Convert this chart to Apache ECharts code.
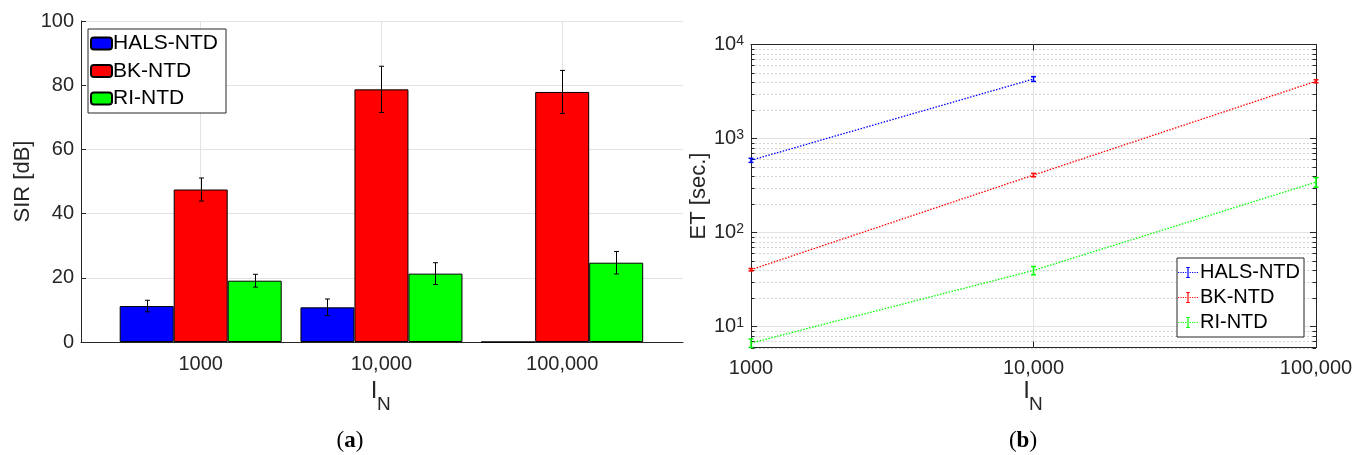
<!DOCTYPE html>
<html>
<head>
<meta charset="utf-8">
<script src="https://cdn.jsdelivr.net/npm/echarts@6/dist/echarts.min.js"></script>
<style>
html,body{margin:0;padding:0;background:#fff;}
#c{width:1362px;height:455px;}
</style>
</head>
<body>
<div id="c"></div>
<script>
// ---------- data ----------
const categories = ['1000', '10,000', '100,000'];
const methodNames = ['HALS-NTD', 'BK-NTD', 'RI-NTD'];
const methodColors = ['#0000ff', '#ff0000', '#00ff00'];

// (a) SIR [dB]
const sirHALS = [11.2, 10.8, 0];
const sirHALSErr = [1.8, 2.6, null];
const sirBK = [47.5, 78.7, 77.9];
const sirBKErr = [3.6, 7.2, 6.7];
const sirRI = [19.1, 21.3, 24.7];
const sirRIErr = [2.0, 3.4, 3.5];

// (b) ET [sec.]
const sizes = [1000, 10000, 100000];
const sizeLabels = ['1000', '10,000', '100,000'];
const etHALS = [587, 4300, null];
const etHALSErr = [29, 250, null];
const etBK = [40.3, 409, 4064];
const etBKErr = [1.2, 17, 150];
const etRI = [6.7, 39.6, 344];
const etRIErr = [0.7, 4, 40];
const yMinorTicks = [6, 7, 8, 9, 20, 30, 40, 50, 60, 70, 80, 90,
  200, 300, 400, 500, 600, 700, 800, 900, 2000, 3000, 4000, 5000, 6000, 7000, 8000, 9000];

// ---------- style ----------
const FONT = 'Liberation Sans, Arial, Helvetica, sans-serif';
const SERIF = 'Liberation Serif, DejaVu Serif, serif';
const AX = '#262626';
const GRID = '#e3e3e3';
const MINOR = '#d4d4d4';
const BAR_W = 54;

const chart = echarts.init(document.getElementById('c'), null, {renderer: 'canvas'});

function sirErrSeries(name, vals, errs, off) {
  return {
    type: 'custom', name: name + ' err', xAxisIndex: 1, yAxisIndex: 1, z: 5, clip: false,
    data: vals.map((v, i) => errs[i] == null ? null : [i, v, errs[i]]).filter(Boolean),
    renderItem: function (params, api) {
      const v = api.value(1), e = api.value(2), x = api.value(0);
      const t = api.coord([x, v + e]);
      const b = api.coord([x, v - e]);
      const cx = Math.round(t[0] + off) + 0.5;
      const st = {stroke: '#000', lineWidth: 1};
      return {type: 'group', children: [
        {type: 'line', shape: {x1: cx, y1: t[1], x2: cx, y2: b[1]}, style: st},
        {type: 'line', shape: {x1: cx - 2.5, y1: t[1], x2: cx + 2.5, y2: t[1]}, style: st},
        {type: 'line', shape: {x1: cx - 2.5, y1: b[1], x2: cx + 2.5, y2: b[1]}, style: st}
      ]};
    }
  };
}

function etErrSeries(name, vals, errs, color) {
  return {
    type: 'custom', name: name + ' eterr', xAxisIndex: 2, yAxisIndex: 2, z: 6, clip: false,
    data: sizes.map((s, i) => (vals[i] == null || errs[i] == null) ? null : [s, vals[i], errs[i]]).filter(Boolean),
    renderItem: function (params, api) {
      const s = api.value(0), v = api.value(1), e = api.value(2);
      const t = api.coord([s, v + e]);
      const b = api.coord([s, v - e]);
      const cx = t[0];
      const st = {stroke: color, lineWidth: 1.5};
      return {type: 'group', children: [
        {type: 'line', shape: {x1: cx, y1: t[1], x2: cx, y2: b[1]}, style: st},
        {type: 'line', shape: {x1: cx - 2.5, y1: t[1], x2: cx + 2.5, y2: t[1]}, style: st},
        {type: 'line', shape: {x1: cx - 2.5, y1: b[1], x2: cx + 2.5, y2: b[1]}, style: st}
      ]};
    }
  };
}

function etLine(name, vals, color) {
  return {
    type: 'line', name: name + ' (ET)', xAxisIndex: 2, yAxisIndex: 2, z: 4,
    data: sizes.map((s, i) => vals[i] == null ? null : [s, vals[i]]).filter(Boolean),
    symbol: 'none', showSymbol: false, clip: false,
    itemStyle: {color: color},
    lineStyle: {color: color, width: 1.3, type: [1.5, 1.5]},
    emphasis: {disabled: true}
  };
}

const errIcon = 'path://M0,6.4h1.2v1.2h-1.2z M2.4,6.4h1.2v1.2h-1.2z M4.8,6.4h1.2v1.2h-1.2z M7.2,6.4h1.2v1.2h-1.2z ' +
  'M11.6,6.4h1.2v1.2h-1.2z M14,6.4h1.2v1.2h-1.2z M16.4,6.4h1.2v1.2h-1.2z M18.8,6.4h1.2v1.2h-1.2z ' +
  'M9.4,1.5h1.2v11h-1.2z M8.2,1.5h3.6v1h-3.6z M8.2,11.5h3.6v1h-3.6z';

function isPow10(v) { const e = Math.log10(v); return Math.abs(e - Math.round(e)) < 1e-6; }

const option = {
  animation: false,
  textStyle: {fontFamily: FONT},
  grid: [
    {left: 81, top: 21, width: 602, height: 321},
    {left: 200.7, top: 21, width: 361.5, height: 321},
    {left: 751, top: 44.5, width: 565, height: 303}
  ],
  xAxis: [
    {gridIndex: 0, type: 'value', min: 0, max: 1,
      axisLine: {show: true, lineStyle: {color: AX, width: 1}},
      axisTick: {show: false}, axisLabel: {show: false}, splitLine: {show: false}},
    {gridIndex: 1, type: 'category', data: categories, boundaryGap: false,
      axisLine: {show: false}, axisTick: {show: false},
      axisLabel: {color: AX, fontSize: 20, margin: 12, fontFamily: FONT},
      splitLine: {show: true, lineStyle: {color: GRID, width: 1}}},
    {gridIndex: 2, type: 'log', logBase: 10, min: 1000, max: 100000, splitNumber: 2,
      axisLine: {show: true, lineStyle: {color: AX, width: 1}},
      axisTick: {show: true, inside: true, length: 6, lineStyle: {color: AX}},
      axisLabel: {color: AX, fontSize: 20, margin: 11, fontFamily: FONT,
        formatter: function (v) { const i = sizes.findIndex(s => Math.abs(s - v) / s < 1e-6); return i >= 0 ? sizeLabels[i] : ''; }},
      splitLine: {show: true, lineStyle: {color: GRID, width: 1}}},
    {gridIndex: 2, type: 'log', logBase: 10, min: 1000, max: 100000, splitNumber: 2, position: 'top',
      axisLine: {show: true, lineStyle: {color: AX, width: 1}},
      axisTick: {show: true, inside: true, length: 6, lineStyle: {color: AX}},
      axisLabel: {show: false}, splitLine: {show: false}}
  ],
  yAxis: [
    {gridIndex: 0, type: 'value', min: 0, max: 100, interval: 20,
      name: 'SIR [dB]', nameLocation: 'middle', nameRotate: 90, nameGap: 47,
      nameTextStyle: {color: AX, fontSize: 22, fontFamily: FONT},
      axisLine: {show: true, lineStyle: {color: AX, width: 1}},
      axisTick: {show: true, inside: true, length: 5, lineStyle: {color: AX}},
      axisLabel: {color: AX, fontSize: 20, margin: 7, fontFamily: FONT},
      splitLine: {show: true, lineStyle: {color: GRID, width: 1}}},
    {gridIndex: 1, type: 'value', min: 0, max: 100, show: false},
    {gridIndex: 2, type: 'log', logBase: 10, min: 6, max: 10000, splitNumber: 3,
      name: 'ET [sec.]', nameLocation: 'middle', nameRotate: 90, nameGap: 41,
      nameTextStyle: {color: AX, fontSize: 22, fontFamily: FONT},
      axisLine: {show: true, lineStyle: {color: AX, width: 1}},
      axisTick: {show: true, inside: true, length: 6, lineStyle: {color: AX}},
      axisLabel: {color: AX, fontSize: 20, margin: 7, fontFamily: FONT,
        formatter: function (v) { if (!isPow10(v)) return ''; return '{b|10}{sup|' + Math.round(Math.log10(v)) + '}'; },
        rich: {
          b: {fontSize: 20, lineHeight: 20, color: AX, fontFamily: FONT, verticalAlign: 'middle'},
          sup: {fontSize: 14, lineHeight: 14, color: AX, fontFamily: FONT, verticalAlign: 'top', padding: [0, 0, 10, 0]}
        }},
      splitLine: {show: true, lineStyle: {color: GRID, width: 1}}},
    {gridIndex: 2, type: 'log', logBase: 10, min: 6, max: 10000, splitNumber: 3, position: 'right',
      axisLine: {show: true, lineStyle: {color: AX, width: 1}},
      axisTick: {show: true, inside: true, length: 6, lineStyle: {color: AX}},
      axisLabel: {show: false}, splitLine: {show: false}}
  ],
  legend: [
    {data: methodNames, left: 88, top: 29, orient: 'vertical', selectedMode: false,
      itemWidth: 21, itemHeight: 12, itemGap: 6.5, padding: [4, 8, 4, 2],
      borderColor: AX, borderWidth: 1, backgroundColor: '#fff',
      textStyle: {fontSize: 21, lineHeight: 21, color: '#000', fontFamily: FONT, padding: [0, 0, 0, -4]}},
    {data: methodNames.map(n => ({name: n + ' (ET)', icon: errIcon})),
      formatter: function (n) { return n.replace(' (ET)', ''); },
      left: 1177, top: 258, orient: 'vertical', selectedMode: false,
      itemWidth: 20, itemHeight: 11, itemGap: 5, padding: [4.5, 4, 4.5, 1],
      borderColor: AX, borderWidth: 1, backgroundColor: '#fff',
      textStyle: {fontSize: 20, lineHeight: 20, color: '#000', fontFamily: FONT, padding: [0, 0, 0, -3]}}
  ],
  graphic: [
    {type: 'text', x: 374, y: 391.5, style: {text: 'I', fontSize: 24, fill: AX, fontFamily: FONT, align: 'center', verticalAlign: 'middle'}},
    {type: 'text', x: 377, y: 405, style: {text: 'N', fontSize: 19, fill: AX, fontFamily: FONT, align: 'left', verticalAlign: 'middle'}},
    {type: 'text', x: 1026.5, y: 391.5, style: {text: 'I', fontSize: 24, fill: AX, fontFamily: FONT, align: 'center', verticalAlign: 'middle'}},
    {type: 'text', x: 1029, y: 405, style: {text: 'N', fontSize: 19, fill: AX, fontFamily: FONT, align: 'left', verticalAlign: 'middle'}},
    {type: 'text', x: 350, y: 441, style: {text: '({b|a})', fontSize: 23, fill: '#000', fontFamily: SERIF, align: 'center', verticalAlign: 'middle',
      rich: {b: {fontSize: 23, fontWeight: 'bold', fill: '#000', fontFamily: SERIF}}}},
    {type: 'text', x: 1023, y: 441, style: {text: '({b|b})', fontSize: 23, fill: '#000', fontFamily: SERIF, align: 'center', verticalAlign: 'middle',
      rich: {b: {fontSize: 23, fontWeight: 'bold', fill: '#000', fontFamily: SERIF}}}}
  ],
  series: [
    {type: 'bar', name: 'HALS-NTD', xAxisIndex: 1, yAxisIndex: 1, data: sirHALS, barWidth: BAR_W, barGap: '0%', clip: false,
      itemStyle: {color: methodColors[0], borderColor: '#000', borderWidth: 1}, emphasis: {disabled: true}},
    {type: 'bar', name: 'BK-NTD', xAxisIndex: 1, yAxisIndex: 1, data: sirBK, barWidth: BAR_W, barGap: '0%', clip: false,
      itemStyle: {color: methodColors[1], borderColor: '#000', borderWidth: 1}, emphasis: {disabled: true}},
    {type: 'bar', name: 'RI-NTD', xAxisIndex: 1, yAxisIndex: 1, data: sirRI, barWidth: BAR_W, barGap: '0%', clip: false,
      itemStyle: {color: methodColors[2], borderColor: '#000', borderWidth: 1}, emphasis: {disabled: true}},
    sirErrSeries('HALS-NTD', sirHALS, sirHALSErr, -BAR_W),
    sirErrSeries('BK-NTD', sirBK, sirBKErr, 0),
    sirErrSeries('RI-NTD', sirRI, sirRIErr, BAR_W),
    {
      type: 'custom', name: 'minor grid', xAxisIndex: 2, yAxisIndex: 2, z: 1, clip: false,
      data: yMinorTicks.map(v => [1000, v]),
      renderItem: function (params, api) {
        const v = api.value(1);
        const p1 = api.coord([1000, v]);
        const p2 = api.coord([100000, v]);
        const y = Math.round(p1[1]) + 0.5;
        return {type: 'group', children: [
          {type: 'line', shape: {x1: p1[0], y1: y, x2: p2[0], y2: y}, style: {stroke: MINOR, lineWidth: 1, lineDash: [2, 2]}},
          {type: 'line', shape: {x1: p1[0], y1: y, x2: p1[0] + 3.5, y2: y}, style: {stroke: AX, lineWidth: 1}},
          {type: 'line', shape: {x1: p2[0] - 3.5, y1: y, x2: p2[0], y2: y}, style: {stroke: AX, lineWidth: 1}}
        ]};
      }
    },
    etLine('HALS-NTD', etHALS, methodColors[0]),
    etLine('BK-NTD', etBK, methodColors[1]),
    etLine('RI-NTD', etRI, methodColors[2]),
    etErrSeries('HALS-NTD', etHALS, etHALSErr, methodColors[0]),
    etErrSeries('BK-NTD', etBK, etBKErr, methodColors[1]),
    etErrSeries('RI-NTD', etRI, etRIErr, methodColors[2])
  ]
};
chart.setOption(option);
</script>
</body>
</html>
